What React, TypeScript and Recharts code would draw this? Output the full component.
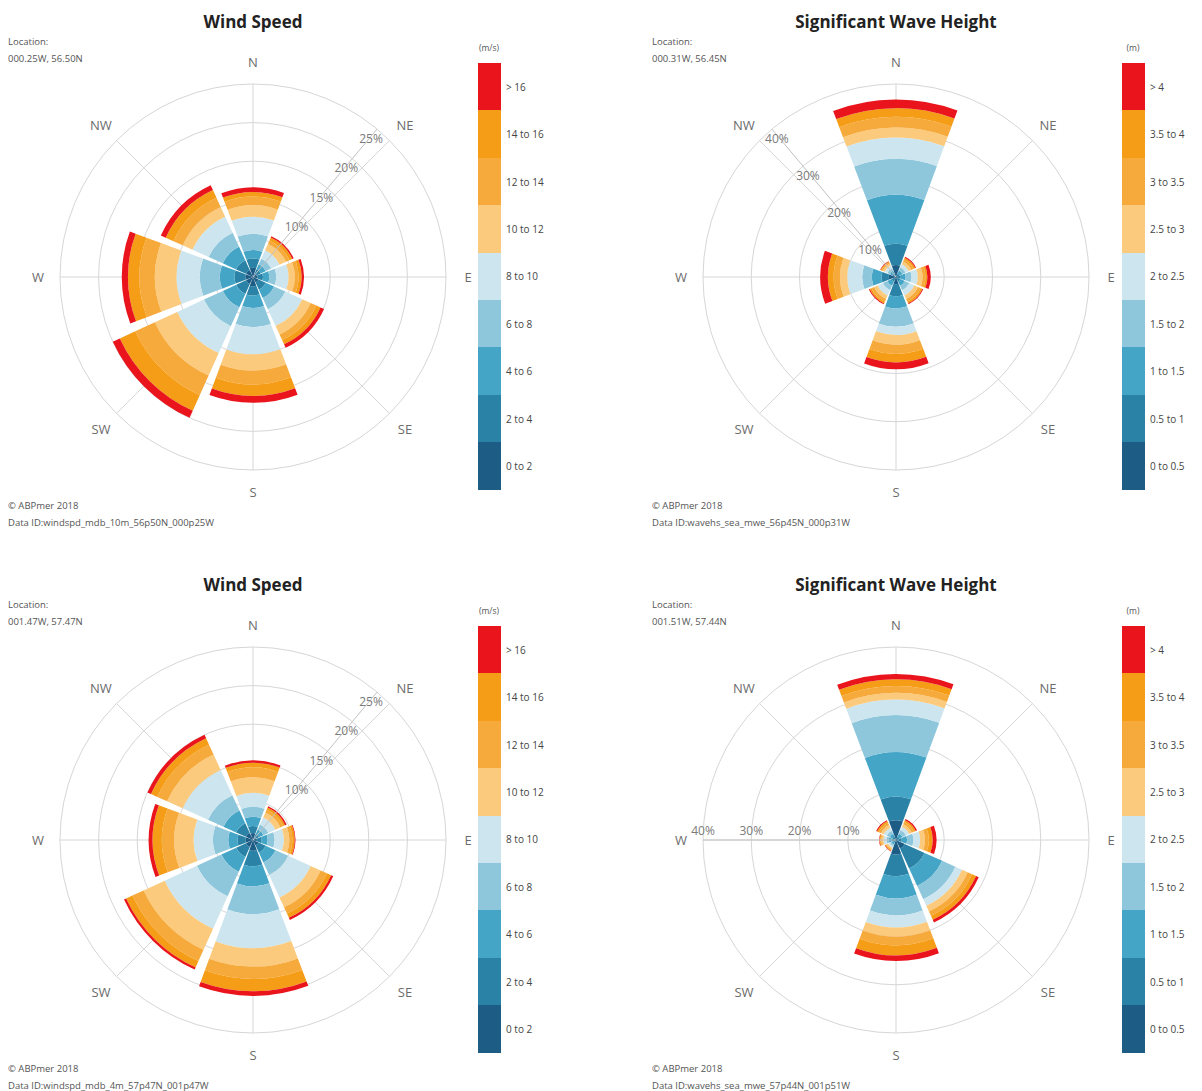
import React from "react"
import { RadialBarChart, RadialBar, PolarGrid, PolarAngleAxis, PolarRadiusAxis } from "recharts"

const FONT = "'Open Sans', 'DejaVu Sans', sans-serif"

const directions = ["N", "NE", "E", "SE", "S", "SW", "W", "NW"]

const windBins = ["0 to 2", "2 to 4", "4 to 6", "6 to 8", "8 to 10", "10 to 12", "12 to 14", "14 to 16", "> 16"]
const waveBins = ["0 to 0.5", "0.5 to 1", "1 to 1.5", "1.5 to 2", "2 to 2.5", "2.5 to 3", "3 to 3.5", "3.5 to 4", "> 4"]

// lowest bin first
const binColors = ["#1d5c85", "#2a83a6", "#45a5c6", "#8ec7dc", "#cce5ef", "#fcca7c", "#f7aa3c", "#f59d16", "#e9141c"]

// % occurrence, one row per direction (N..NW), one value per bin
const windTop = [
  [1.2, 1.2, 1.1, 2.1, 2.2, 1.5, 1.1, 0.6, 0.6],
  [0.5, 0.6, 0.7, 0.8, 1.2, 0.9, 0.5, 0.4, 0.2],
  [0.6, 0.7, 0.8, 0.9, 1.6, 0.8, 0.5, 0.4, 0.3],
  [0.8, 1.0, 1.2, 1.6, 2.4, 1.2, 0.8, 0.6, 0.5],
  [1.2, 1.2, 1.6, 2.5, 3.5, 2.1, 1.8, 1.5, 0.9],
  [1.0, 1.4, 1.9, 2.7, 3.8, 3.2, 2.8, 2.2, 1.0],
  [1.0, 1.4, 1.9, 2.6, 3.0, 2.8, 2.0, 1.5, 0.8],
  [1.0, 1.4, 1.9, 2.0, 2.3, 1.4, 1.3, 1.1, 0.7],
]

const waveTop = [
  [2.5, 4.4, 10.1, 7.5, 4.4, 2.1, 2.2, 1.8, 1.8],
  [0.3, 0.5, 0.7, 0.7, 0.7, 0.6, 0.5, 0.4, 0.2],
  [0.4, 0.6, 1.0, 1.2, 1.3, 1.0, 0.6, 0.4, 0.7],
  [0.4, 0.6, 1.0, 1.0, 1.2, 0.8, 0.6, 0.4, 0.2],
  [1.5, 2.5, 2.5, 3.8, 1.7, 2.0, 1.9, 1.8, 1.4],
  [0.4, 0.6, 1.0, 1.0, 1.2, 0.8, 0.6, 0.4, 0.2],
  [1.5, 1.5, 2.0, 2.0, 3.1, 1.5, 1.3, 1.2, 1.6],
  [0.3, 0.5, 0.6, 0.6, 0.6, 0.4, 0.3, 0.2, 0.1],
]

const windBottom = [
  [0.9, 0.9, 1.2, 1.3, 1.8, 2.0, 1.3, 0.6, 0.3],
  [0.4, 0.5, 0.6, 0.7, 1.0, 0.7, 0.4, 0.3, 0.2],
  [0.5, 0.6, 0.8, 0.9, 1.2, 0.7, 0.4, 0.3, 0.1],
  [0.8, 1.0, 1.4, 1.8, 3.2, 1.4, 0.9, 0.6, 0.3],
  [1.4, 2.0, 2.6, 3.6, 4.4, 2.4, 1.6, 1.6, 0.6],
  [1.0, 1.4, 2.1, 3.5, 4.6, 3.0, 1.6, 0.9, 0.3],
  [1.0, 1.0, 1.2, 2.0, 2.5, 2.5, 1.6, 1.2, 0.5],
  [1.0, 1.4, 1.8, 2.2, 3.6, 2.2, 1.4, 0.9, 0.5],
]

const waveBottom = [
  [4.1, 4.9, 9.2, 7.7, 3.2, 1.4, 1.4, 1.4, 1.1],
  [0.3, 0.5, 0.7, 0.8, 0.7, 0.6, 0.5, 0.4, 0.3],
  [0.5, 0.7, 1.1, 1.3, 1.4, 1.0, 0.8, 0.8, 0.8],
  [2.0, 4.5, 4.0, 3.0, 1.5, 1.3, 1.0, 0.9, 0.6],
  [3.0, 4.5, 4.6, 3.5, 2.5, 1.9, 1.8, 2.1, 1.2],
  [0.3, 0.3, 0.4, 0.4, 0.4, 0.3, 0.2, 0.2, 0.1],
  [0.4, 0.5, 0.6, 0.5, 0.6, 0.4, 0.2, 0.2, 0.1],
  [0.3, 0.5, 0.6, 0.7, 0.7, 0.6, 0.5, 0.4, 0.2],
]

const windTicks = [0, 5, 10, 15, 20, 25]
const waveTicks = [0, 10, 20, 30, 40]

const CY = 277
const LABEL_R = 215
const SECTOR = 360 / directions.length
// recharts starts each centric bar at its tick, so turn the axis back half a sector
const START_ANGLE = 90 - SECTOR / 2
// spokes go through the middle of each sector
const spokeAngles = directions.map((_, i) => 90 - i * SECTOR)

function toRows(values: number[][]) {
  return directions.map((dir, i) => {
    const row: Record<string, any> = { dir }
    values[i].forEach((v, j) => {
      row["b" + j] = v
    })
    return row
  })
}

interface RoseProps {
  left: number
  top: number
  cx: number
  title: string
  unit: string
  location: string
  dataId: string
  values: number[][]
  bins: string[]
  ticks: number[]
  hideBelow: number
  axisAngle: number
  labelDx: number
  labelDy: number
}

function Rose({ left, top, cx, title, unit, location, dataId, values, bins, ticks, hideBelow, axisAngle, labelDx, labelDy }: RoseProps) {
  const data = toRows(values)
  const textX = cx > 270 ? 52 : 8
  const legendX = cx > 270 ? 522 : 478
  const segH = 47.4

  const compassTick = (props: any) => {
    const { x, y, payload } = props
    // move the label from the tick to the middle of its sector
    const a = Math.atan2(-(y - CY), x - cx) + (SECTOR / 2) * (Math.PI / 180)
    return (
      <text
        x={cx + LABEL_R * Math.cos(a)}
        y={CY - LABEL_R * Math.sin(a)}
        textAnchor="middle"
        dominantBaseline="central"
        fill="#6b6b6b"
        fontSize={13}
        fontFamily={FONT}
      >
        {payload.value}
      </text>
    )
  }

  const radiusTick = (props: any) => {
    const { x, y, payload } = props
    if (payload.value < hideBelow) return <g />
    return (
      <text x={x + labelDx} y={y + labelDy} textAnchor="middle" dominantBaseline="central" fill="#7a7a7a" fontSize={12} fontFamily={FONT}>
        {payload.value}%
      </text>
    )
  }

  const small = { position: "absolute" as const, fontSize: 9.5, color: "#555", fontFamily: FONT, lineHeight: 1, whiteSpace: "nowrap" as const, transform: "translateY(-50%)" }

  return (
    <div style={{ position: "absolute", left, top, width: 600, height: 560 }}>
      <div style={{ position: "absolute", left: cx - 200, width: 400, top: 21, transform: "translateY(-50%)", textAlign: "center", fontFamily: FONT, fontWeight: 700, fontSize: 17, color: "#222", lineHeight: 1 }}>
        {title}
      </div>
      <div style={{ ...small, left: textX, top: 42 }}>Location:</div>
      <div style={{ ...small, left: textX, top: 59 }}>{location}</div>
      <div style={{ ...small, left: textX, top: 506 }}>© ABPmer 2018</div>
      <div style={{ ...small, left: textX, top: 523 }}>Data ID:{dataId}</div>

      <div style={{ position: "absolute", left: 0, top: 0 }}>
        <RadialBarChart
          width={600}
          height={560}
          cx={cx}
          cy={CY}
          innerRadius={0}
          outerRadius={193}
          startAngle={START_ANGLE}
          endAngle={START_ANGLE - 360}
          data={data}
          layout="centric"
          barCategoryGap="5%"
        >
          <PolarGrid gridType="circle" stroke="#d6d6d6" polarAngles={spokeAngles} />
          <PolarAngleAxis type="category" dataKey="dir" tick={compassTick} tickSize={22} tickLine={false} axisLine={false} />
          <PolarRadiusAxis type="number" domain={[ticks[0], ticks[ticks.length - 1]]} ticks={ticks} angle={axisAngle} stroke="#c2c2c2" tick={radiusTick} />
          {bins.map((b, j) => (
            <RadialBar key={b} dataKey={"b" + j} stackId="a" fill={binColors[j]} isAnimationActive={false} />
          ))}
        </RadialBarChart>
      </div>

      <div style={{ position: "absolute", left: legendX + 11, top: 48, transform: "translate(-50%, -50%)", fontSize: 8.5, color: "#555", fontFamily: FONT, lineHeight: 1 }}>
        {unit}
      </div>
      {bins
        .map((b, j) => ({ b, color: binColors[j] }))
        .reverse()
        .map((item, k) => (
          <React.Fragment key={item.b}>
            <div style={{ position: "absolute", left: legendX, top: 63 + k * segH, width: 23, height: segH + 0.5, background: item.color }} />
            <div style={{ ...small, fontSize: 10, color: "#444", left: legendX + 28, top: 63 + k * segH + segH / 2 }}>{item.b}</div>
          </React.Fragment>
        ))}
    </div>
  )
}

export default function App() {
  return (
    <div style={{ position: "absolute", left: 0, top: 0, width: 1202, height: 1091, background: "#fff", overflow: "hidden" }}>
      <Rose
        left={0}
        top={0}
        cx={253}
        title="Wind Speed"
        unit="(m/s)"
        location="000.25W, 56.50N"
        dataId="windspd_mdb_10m_56p50N_000p25W"
        values={windTop}
        bins={windBins}
        ticks={windTicks}
        hideBelow={10}
        axisAngle={50}
        labelDx={-6}
        labelDy={9}
      />
      <Rose
        left={600}
        top={0}
        cx={296}
        title="Significant Wave Height"
        unit="(m)"
        location="000.31W, 56.45N"
        dataId="wavehs_sea_mwe_56p45N_000p31W"
        values={waveTop}
        bins={waveBins}
        ticks={waveTicks}
        hideBelow={10}
        axisAngle={130}
        labelDx={5}
        labelDy={9}
      />
      <Rose
        left={0}
        top={563}
        cx={253}
        title="Wind Speed"
        unit="(m/s)"
        location="001.47W, 57.47N"
        dataId="windspd_mdb_4m_57p47N_001p47W"
        values={windBottom}
        bins={windBins}
        ticks={windTicks}
        hideBelow={10}
        axisAngle={50}
        labelDx={-6}
        labelDy={9}
      />
      <Rose
        left={600}
        top={563}
        cx={296}
        title="Significant Wave Height"
        unit="(m)"
        location="001.51W, 57.44N"
        dataId="wavehs_sea_mwe_57p44N_001p51W"
        values={waveBottom}
        bins={waveBins}
        ticks={waveTicks}
        hideBelow={10}
        axisAngle={180}
        labelDx={0}
        labelDy={-10}
      />
    </div>
  )
}
